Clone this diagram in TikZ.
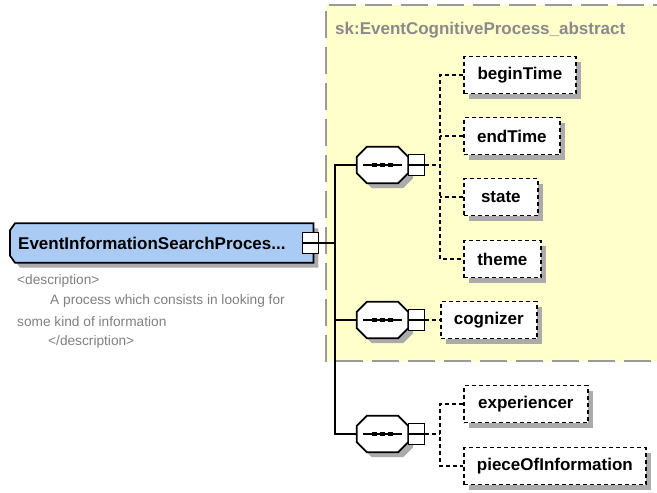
\documentclass[tikz,border=0pt]{standalone}
\usepackage{fontspec}
\setmainfont{Liberation Sans}
\usetikzlibrary{shadows,backgrounds}
\definecolor{paleyellow}{HTML}{FFFFCC}
\definecolor{elemblue}{HTML}{A9CBF4}
\definecolor{shadowgray}{HTML}{ABABAB}
\definecolor{descgray}{HTML}{808080}
\definecolor{titlegray}{HTML}{8A8A8A}
\definecolor{framegray}{HTML}{9A9A9A}
\newcommand\seqnode[2]{%
  \node[minimum width=51pt,minimum height=36pt,inner sep=0pt] (#1) at (#2) {};
  \path[seqfill] ([xshift=10pt]#1.north west) -- ([xshift=-10pt]#1.north east) -- ([yshift=-10pt]#1.north east)
    -- ([yshift=10pt]#1.south east) -- ([xshift=-10pt]#1.south east) -- ([xshift=10pt]#1.south west)
    -- ([yshift=10pt]#1.south west) -- ([yshift=-10pt]#1.north west) -- cycle;
  \draw[solidline] ([xshift=6pt]#1.west) -- ([xshift=-6pt]#1.east);
  \foreach \dx in {-8,0,8}{\fill ([xshift=\dx pt]#1.center) +(-2.4,-2.4) rectangle +(2.4,2.4);}
}
\begin{document}
\begin{tikzpicture}[x=1pt,y=-1pt,
  shade/.style={drop shadow={shadow xshift=5pt,shadow yshift=-5pt,fill=shadowgray,opacity=1}},
  elembox/.style={draw=black,line width=1.7pt,dash pattern=on 4pt off 3pt,fill=white,shade,
    font=\bfseries\fontsize{17}{20}\selectfont,minimum height=37pt,inner xsep=0pt,anchor=west},
  dashline/.style={draw=black,line width=1.7pt,dash pattern=on 4pt off 3pt},
  solidline/.style={draw=black,line width=1.7pt},
  seqfill/.style={draw=black,line width=1.7pt,fill=white,shade},
  minusbox/.style={draw=black,line width=1.7pt,fill=white,minimum width=16pt,minimum height=21pt,inner sep=0pt},
  desc/.style={anchor=west,text=descgray,font=\fontsize{13.7}{16}\selectfont,inner sep=0pt}
]
\useasboundingbox (0,0) rectangle (657,493);

% main element (text node, shape drawn on background layer)
\node[anchor=west,minimum width=303pt,minimum height=39pt,text width=287pt,align=left,inner xsep=8pt,inner ysep=0pt,
  font=\bfseries\fontsize{17}{20}\selectfont] (main) at (10,243) {EventInformationSearchProces...};

\begin{pgfonlayer}{background}
\fill[white] (0,0) rectangle (657,493);
\begin{scope}
\clip (0,0) rectangle (657,493);
\fill[paleyellow] (326,5) rectangle (680,361);
\draw[framegray,line width=1.6pt,dash pattern=on 27pt off 9pt] (680,5) -- (326,5) -- (326,361) -- (680,361);
\end{scope}
\path[draw=black,line width=1.7pt,fill=elemblue,shade]
  ([xshift=5pt]main.north west) -- (main.north east) -- (main.south east) -- ([xshift=5pt]main.south west)
  -- ([yshift=7pt]main.south west) -- ([yshift=-7pt]main.north west) -- cycle;
\end{pgfonlayer}

\node[minusbox] (mminus) at ([xshift=-3pt]main.east) {};
\draw[solidline] ([xshift=1.5pt]mminus.west) -- ([xshift=-1.5pt]mminus.east);

\node[anchor=west,text=titlegray,font=\bfseries\fontsize{17}{20}\selectfont,inner sep=0pt] (title) at (335,30) {sk:EventCognitiveProcess\_abstract};

\node[desc] (d1) at (17,281) {<description>};
\node[desc] (d2) at (50,301) {A process which consists in looking for};
\node[desc] (d3) at (17,322) {some kind of information};
\node[desc] (d4) at (48,342) {</description>};

% sequences
\seqnode{s1}{382.5,165}
\seqnode{s2}{382.5,320}
\seqnode{s3}{382.5,434}
\node[minusbox,anchor=west] (s1m) at ([xshift=-0.5pt]s1.east) {};
\node[minusbox,anchor=west] (s2m) at ([xshift=-0.5pt]s2.east) {};
\node[minusbox,anchor=west] (s3m) at ([xshift=-0.5pt]s3.east) {};
\foreach \m in {s1m,s2m,s3m}{\draw[solidline] ([xshift=1.5pt]\m.west) -- ([xshift=-1.5pt]\m.east);}

% elements
\node[elembox,minimum width=112pt] (begin) at (463,75) {beginTime};
\node[elembox,minimum width=96pt] (endt) at (463,136) {endTime};
\node[elembox,minimum width=74pt] (state) at (463,197) {state};
\node[elembox,minimum width=77pt] (theme) at (463,259) {theme};
\node[elembox,minimum width=96pt] (cogn) at (440,320) {cognizer};
\node[elembox,minimum width=124pt] (exper) at (463,404) {experiencer};
\node[elembox,minimum width=182pt] (piece) at (463,466) {pieceOfInformation};

% solid connectors
\coordinate (tr) at (335,243);
\draw[solidline] (mminus.east) -- (tr);
\draw[solidline] (s1.west) -| (tr) |- (s3.west);
\draw[solidline] (s2.west) -- (s2.west -| tr);

% dashed connectors
\coordinate (b1) at (440,165);
\coordinate (b3) at (440,434);
\draw[dashline] (s1m.east) -- (b1);
\draw[dashline] (begin.west) -| (b1) |- (theme.west);
\draw[dashline] (endt.west) -- (endt.west -| b1);
\draw[dashline] (state.west) -- (state.west -| b1);
\draw[dashline] (s2m.east) -- (cogn.west);
\draw[dashline] (s3m.east) -- (b3);
\draw[dashline] (exper.west) -| (b3) |- (piece.west);
\end{tikzpicture}
\end{document}
